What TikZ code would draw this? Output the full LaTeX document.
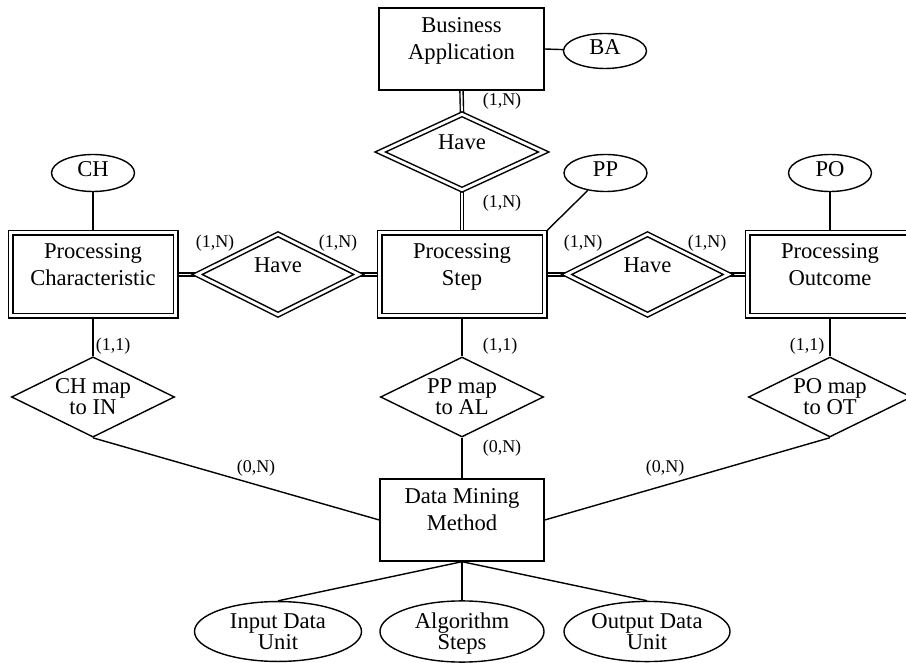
\documentclass[tikz,border=0pt]{standalone}
\usepackage{fontspec}
\setmainfont{Liberation Serif}
\usetikzlibrary{shapes.geometric,backgrounds}
\newcommand{\ertext}[2][0pt]{\raisebox{#1}[\height][\depth]{\begin{tabular}{@{}c@{}}#2\end{tabular}}}
\newcommand{\upone}[2][0pt]{\raisebox{#1}[\height][\depth]{#2}}
\begin{document}
\begin{tikzpicture}[x=0.5pt,y=-0.5pt,
  every node/.style={inner sep=0pt},
  entity/.style={draw, rectangle, line width=0.7pt, minimum width=82.5pt, minimum height=41pt, font=\fontsize{11.3}{13.5}\selectfont},
  weakentity/.style={entity, line width=0.75pt, double, double distance=1.5pt, minimum width=82.5pt, minimum height=41.5pt},
  attr/.style={draw, ellipse, line width=0.7pt, font=\fontsize{11.3}{10.5}\selectfont},
  rel/.style={draw, diamond, aspect=2, line width=0.7pt, font=\fontsize{11.3}{10.5}\selectfont, minimum width=81.5pt, minimum height=40pt},
  weakrel/.style={rel, line width=0.75pt, double, double distance=1.4pt, minimum width=81pt, minimum height=40.5pt},
  card/.style={font=\fontsize{9}{10}\selectfont},
  conn/.style={line width=0.7pt},
  wconn/.style={line width=0.7pt, double, double distance=0.9pt}]
\useasboundingbox (0,0) rectangle (906,663);
\clip (0,0) rectangle (906,663);

% entities
\node[entity] (bus) at (461.5,49) {\ertext[4.4pt]{Business\\Application}};
\node[weakentity] (pc) at (93,274.5) {\ertext[4pt]{Processing\\Characteristic}};
\node[weakentity] (ps) at (462,274.5) {\ertext[4pt]{Processing\\Step}};
\node[weakentity] (po) at (830,274.5) {\ertext[4pt]{Processing\\Outcome}};
\node[entity, minimum width=82pt] (dmm) at (462,520) {\ertext[4.4pt]{Data Mining\\Method}};

% attributes
\node[attr, minimum width=41.5pt, minimum height=17.5pt] (ba) at (605,51) {\upone[2pt]{BA}};
\node[attr, minimum width=41.5pt, minimum height=18.5pt] (ch) at (93,173) {\upone[2pt]{CH}};
\node[attr, minimum width=41.5pt, minimum height=18.5pt] (pp) at (605.5,173) {\upone[2pt]{PP}};
\node[attr, minimum width=41.5pt, minimum height=18.5pt] (poa) at (830,173) {\upone[2pt]{PO}};
\node[attr, minimum width=83.5pt, minimum height=29.5pt] (idu) at (278,631.5) {\ertext[-1.5pt]{Input Data\\Unit}};
\node[attr, minimum width=82pt, minimum height=29.5pt] (alg) at (462,631.5) {\ertext[-1.5pt]{Algorithm\\Steps}};
\node[attr, minimum width=83pt, minimum height=29.5pt] (odu) at (647,631.5) {\ertext[-1.5pt]{Output Data\\Unit}};

% relationships
\node[weakrel, minimum width=82pt, minimum height=38pt] (have1) at (462,152) {\upone[4.8pt]{Have}};
\node[weakrel] (havel) at (278,274.5) {\upone[4.8pt]{Have}};
\node[weakrel] (haver) at (647.5,274.5) {\upone[4.8pt]{Have}};
\node[rel] (chmap) at (93,397) {\ertext[-1.5pt]{CH map\\to IN}};
\node[rel] (ppmap) at (462,397) {\ertext[-1.5pt]{PP map\\to AL}};
\node[rel] (pomap) at (830,397) {\ertext[-1.5pt]{PO map\\to OT}};

% cardinalities
\node[card] (c1) at (502,101.5) {(1,N)};
\node[card] (c2) at (502,203.5) {(1,N)};
\node[card] (c3) at (215,243.5) {(1,N)};
\node[card] (c4) at (338,243.5) {(1,N)};
\node[card] (c5) at (583,243.5) {(1,N)};
\node[card] (c6) at (707,243.5) {(1,N)};
\node[card] (c7) at (113,346) {(1,1)};
\node[card] (c8) at (500,346) {(1,1)};
\node[card] (c9) at (807,346) {(1,1)};
\node[card] (c10) at (256,468) {(0,N)};
\node[card] (c11) at (502,448) {(0,N)};
\node[card] (c12) at (665,468) {(0,N)};

\begin{scope}[on background layer]
\draw[conn] (bus.east) -- (ba);
\draw[wconn] (bus.south) -- (have1.north);
\draw[wconn] (have1.south) -- (ps.north);
\draw[conn] (pc.north) -- (ch.south);
\draw[conn] (ps.north east) -- (pp);
\draw[conn] (po.north) -- (poa.south);
\draw[wconn] (pc.east) -- (havel.west);
\draw[wconn] (havel.east) -- (ps.west);
\draw[wconn] (ps.east) -- (haver.west);
\draw[wconn] (haver.east) -- (po.west);
\draw[conn] (pc.south) -- (chmap.north);
\draw[conn] (ps.south) -- (ppmap.north);
\draw[conn] (po.south) -- (pomap.north);
\draw[conn] (chmap.south) -- (dmm.west);
\draw[conn] (ppmap.south) -- (dmm.north);
\draw[conn] (pomap.south) -- (dmm.east);
\draw[conn] (dmm.south) -- (idu.north);
\draw[conn] (dmm.south) -- (alg.north);
\draw[conn] (dmm.south) -- (odu.north);
\end{scope}
\end{tikzpicture}
\end{document}
